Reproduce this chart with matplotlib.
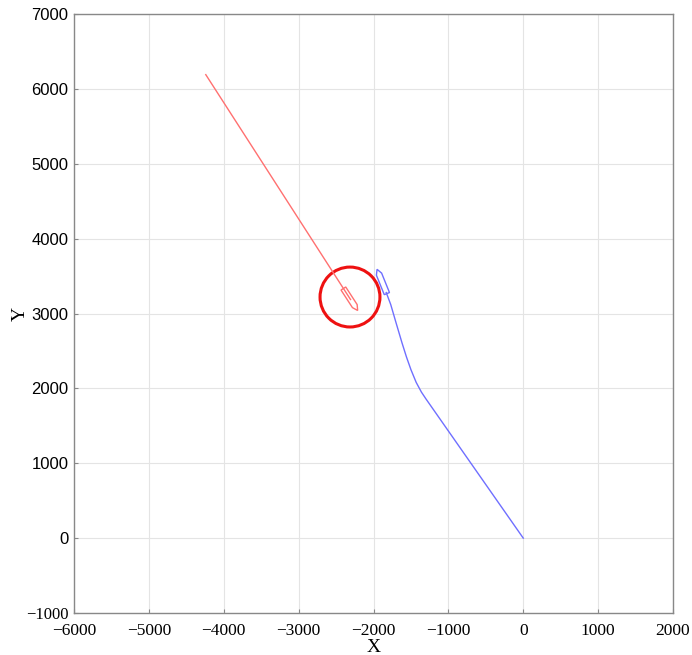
import numpy as np
import matplotlib

matplotlib.use("Agg")
import matplotlib.pyplot as plt
from matplotlib.patches import Circle, Polygon

# own ship (blue) track, from origin up to the ship stern
blue_x = [0, -1300, -1360, -1430, -1500, -1560, -1620, -1700, -1770, -1830]
blue_y = [0, 1860, 1950, 2080, 2250, 2420, 2610, 2880, 3120, 3280]
blue_ship_xy = (-1887, 3428)
blue_heading = 112  # deg

# target ship (red) track
red_x = [-4240, -2307]
red_y = [6190, 3187]
red_ship_xy = (-2307, 3187)
red_heading = -57  # deg

# danger circle around target
circle_xy = (-2314, 3220)
circle_r = 400

xticks = [-6000, -5000, -4000, -3000, -2000, -1000, 0, 1000, 2000]
yticks = [-1000, 0, 1000, 2000, 3000, 4000, 5000, 6000, 7000]


def ship_outline(center, heading, length=350, width=75, bow=70):
    hl, hw = length / 2, width / 2
    local = np.array([[-hl, -hw], [-hl, hw], [hl - bow, hw], [hl, 0], [hl - bow, -hw]])
    a = np.deg2rad(heading)
    rot = np.array([[np.cos(a), -np.sin(a)], [np.sin(a), np.cos(a)]])
    return local @ rot.T + np.array(center)


fig = plt.figure(figsize=(6.92, 6.55), dpi=100)
ax = fig.add_axes([74 / 692, 42 / 655, 599 / 692, 599 / 655])

ax.plot(blue_x, blue_y, color="#6f6fff", lw=1.0)
ax.plot(red_x, red_y, color="#ff7070", lw=1.0)
ax.add_patch(Polygon(ship_outline(blue_ship_xy, blue_heading), closed=True,
                     fill=False, ec="#6f6fff", lw=1.0))
ax.add_patch(Polygon(ship_outline(red_ship_xy, red_heading), closed=True,
                     fill=False, ec="#ff7070", lw=1.0))
ax.add_patch(Circle(circle_xy, circle_r, fill=False, ec="#ee1111", lw=2.2))

ax.set_xlim(-6000, 2000)
ax.set_ylim(-1000, 7000)
ax.set_xticks(xticks)
ax.set_yticks(yticks)
ax.set_xticklabels([f"\u2212{-v}" if v < 0 else str(v) for v in xticks],
                   family="Liberation Serif", fontsize=12.5)
ax.set_yticklabels([f"\u2212{-v}" if v < 0 else str(v) for v in yticks],
                   family="Liberation Sans", fontsize=12)
ax.get_yticklabels()[0].set_family("Liberation Serif")
ax.grid(True, color="#e4e4e4", lw=0.8)
ax.set_axisbelow(True)
ax.tick_params(direction="in", length=3, color="#888888")
ax.tick_params(axis="x", pad=7)
ax.tick_params(axis="y", pad=4)
for s in ax.spines.values():
    s.set_color("#888888")
    s.set_linewidth(1.0)

ax.set_xlabel("X", family="Liberation Serif", fontsize=14, labelpad=0)
ax.set_ylabel("Y", family="Liberation Serif", fontsize=14, labelpad=-2)

fig.savefig("out.png", dpi=100)
